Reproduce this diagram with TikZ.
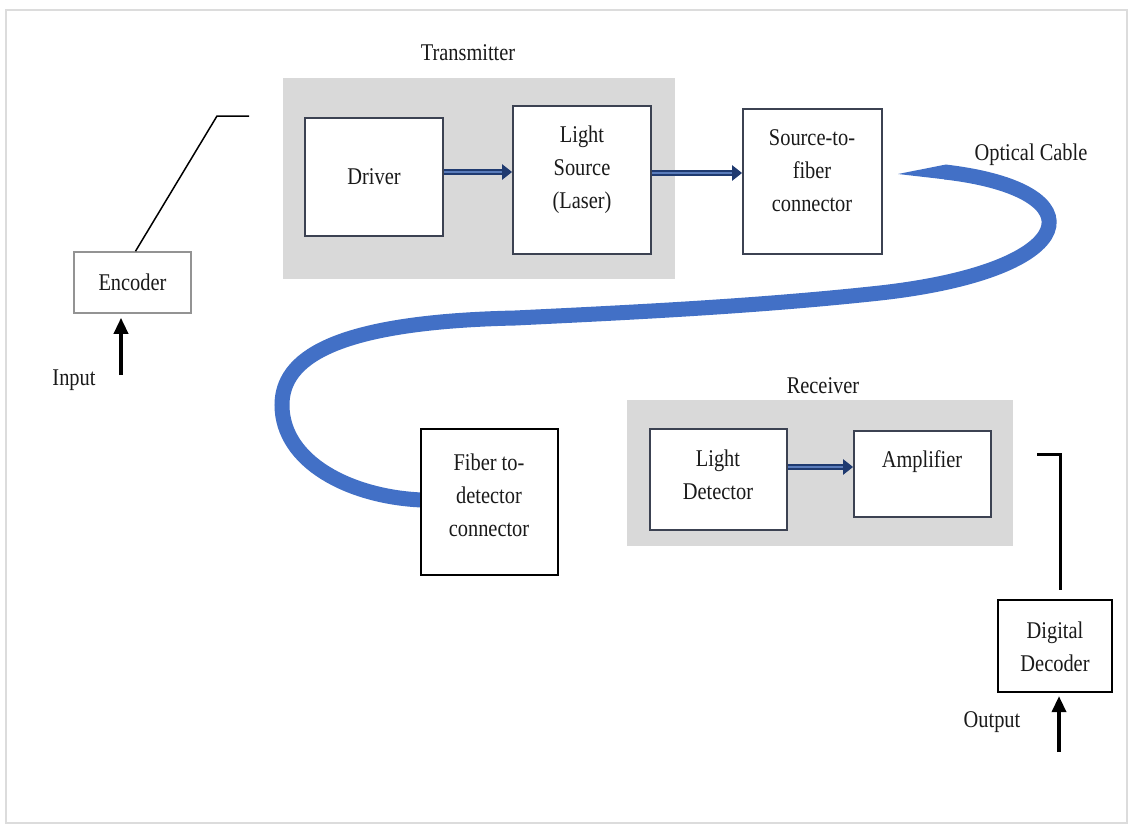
\documentclass[tikz,border=0pt]{standalone}
\usepackage{fontspec}
\setmainfont{Liberation Serif}[FakeStretch=0.85]
\usetikzlibrary{arrows.meta,calc}
\definecolor{panel}{HTML}{D9D9D9}
\definecolor{boxline}{HTML}{3C4252}
\definecolor{navy}{HTML}{1F3A70}
\definecolor{navylight}{HTML}{5A7CBB}
\definecolor{cable}{HTML}{4270C6}
\definecolor{frame}{HTML}{DCDCDC}
\definecolor{ink}{HTML}{1A1A1A}
\tikzset{
  lbl/.style={font=\fontsize{24}{33}\selectfont, text=ink, inner sep=0pt, align=center},
  blk/.style={draw=boxline, line width=1.8pt, fill=white, inner sep=0pt, font=\fontsize{24}{33}\selectfont, text=ink, align=center},
  blkk/.style={draw=black, line width=2.2pt, fill=white, inner sep=0pt, font=\fontsize{24}{33}\selectfont, text=ink, align=center},
  blkg/.style={draw=gray!85, line width=1.6pt, fill=white, inner sep=0pt, font=\fontsize{24}{33}\selectfont, text=ink, align=center},
  dblarr/.style={draw=navy, line width=6.5pt, -{Triangle[length=10pt,width=15pt]}},
  dblin/.style={draw=navylight, line width=1.6pt},
  sigarr/.style={draw=black, line width=3.5pt, -{Triangle[length=16pt,width=14pt]}},
  wire/.style={draw=black, line width=1.5pt},
  wirek/.style={draw=black, line width=3pt},
}
\begin{document}
\begin{tikzpicture}[x=1pt,y=-1pt]
\useasboundingbox (0,0) rectangle (1130,825);
\fill[white] (0,0) rectangle (1130,825);
\draw[frame, line width=2pt] (6,10) rectangle (1127,823);

% panels
\fill[panel] (283,78) rectangle (675,279);
\fill[panel] (627,400) rectangle (1013,546);
\node[lbl] (ttx) at (468,53) {Transmitter};
\node[lbl] (trx) at (823,386) {Receiver};

% optical cable
\draw[cable, line width=15pt] (945,172) .. controls (1100,190) and (1085,270) .. (880,293)
   .. controls (760,306) and (640,312) .. (515,318)
   .. controls (330,322) and (282,360) .. (282,405)
   .. controls (282,462) and (350,497) .. (422,500);
\fill[cable] (898,174) -- (946,164.5) -- (946,179.5) -- cycle;
\node[lbl] (tcab) at (1031,155) {Optical Cable};

% blocks
\node[blk, minimum width=138pt, minimum height=118pt] (drv) at (374,177) {};
\node[lbl] at (374,177) {Driver};
\node[blk, minimum width=138pt, minimum height=148pt] (ls) at (582,180) {};
\node[lbl] at (582,170) {Light\\Source\\(Laser)};
\node[blk, minimum width=139pt, minimum height=145pt] (sf) at (812.5,181.5) {};
\node[lbl] at (812,171) {Source-to-\\fiber\\connector};
\node[blkk, minimum width=137pt, minimum height=146pt] (fd) at (489.5,502) {};
\node[lbl] at (489,495) {Fiber to-\\detector\\connector};
\node[blk, minimum width=137pt, minimum height=101pt] (ld) at (718.5,479.5) {};
\node[lbl] at (718,475) {Light\\Detector};
\node[blk, minimum width=137pt, minimum height=86pt] (amp) at (922.5,474) {};
\node[lbl] at (922,462) {Amplifier};
\node[blkg, minimum width=117pt, minimum height=61pt] (enc) at (132.5,282.5) {Encoder};
\node[blkk, minimum width=114pt, minimum height=92pt] (dec) at (1055,646) {};
\node[lbl] at (1055,647) {Digital\\Decoder};

% double arrows
\coordinate (a1) at ($(drv.east)+(0,-5)$);
\draw[dblarr] (a1) -- (a1 -| ls.west);
\draw[dblin] (a1) -- ($(a1 -| ls.west)+(-10,0)$);
\coordinate (a2) at ($(ls.east)+(0,-7)$);
\draw[dblarr] (a2) -- (a2 -| sf.west);
\draw[dblin] (a2) -- ($(a2 -| sf.west)+(-10,0)$);
\coordinate (a3) at ($(ld.east)+(0,-12.5)$);
\draw[dblarr] (a3) -- (a3 -| amp.west);
\draw[dblin] (a3) -- ($(a3 -| amp.west)+(-10,0)$);

% encoder line
\coordinate (e1) at (217,116);
\coordinate (e2) at (249,116);
\draw[wire] ([xshift=3pt]enc.north) -- (e1) -- (e2);

% input
\coordinate (in) at (121,375);
\draw[sigarr, shorten >=4pt] (in) -- (in |- enc.south);
\node[lbl] (tin) at (74,380) {Input};

% decoder bracket
\coordinate (d1) at (1037,454);
\coordinate (d2) at (1060,454);
\coordinate (d3) at (1060,590);
\draw[wirek] (d1) -- (d2) -- (d3);

% output
\coordinate (out) at (1059,752);
\draw[sigarr, shorten >=3pt] (out) -- (out |- dec.south);
\node[lbl] (tout) at (992,722) {Output};
\end{tikzpicture}
\end{document}
